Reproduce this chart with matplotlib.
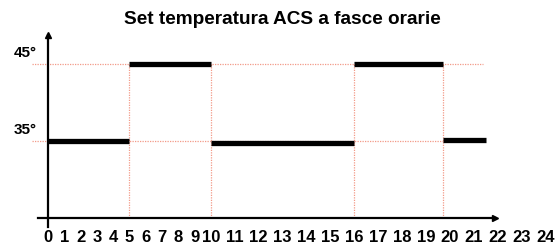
import matplotlib
matplotlib.use("Agg")
import matplotlib.pyplot as plt
import numpy as np

# Data
hours = list(range(25))
seg_start = [0, 5, 10, 16, 19.7]
seg_end = [5, 10, 16, 19.7, 21.5]
seg_temp = [35, 45, 34.8, 45, 35.1]
levels = [35, 45]
level_labels = ["35°", "45°"]
title = "Set temperatura ACS a fasce orarie"

plt.rcParams['font.family'] = ['Liberation Sans', 'DejaVu Sans']
plt.rcParams['font.weight'] = 'bold'

K = 1.464

def fwd(x):
    x = np.asarray(x, dtype=float)
    return np.where(x <= 10, x, 10 + (x - 10) * K)

def inv(y):
    y = np.asarray(y, dtype=float)
    return np.where(y <= 10, y, 10 + (y - 10) / K)

fig = plt.figure(figsize=(5.55, 2.44), dpi=100)
ax = fig.add_axes([0, 0, 1, 1])
ax.set_xscale('function', functions=(fwd, inv))
ax.set_xlim(-2.94, 24.41)
ax.set_ylim(21.62, 53.31)

red = '#f39a88'
# reference dotted lines
ax.hlines(45, -0.98, 21.4, colors=red, linestyles=(0, (1, 1)), lw=0.9, zorder=1)
ax.hlines(35, -0.98, seg_start[-1], colors=red, linestyles=(0, (1, 1)), lw=0.9, zorder=1)
for xs in seg_start[1:]:
    ax.vlines(xs, 25, 45, colors=red, linestyles=(0, (1, 1)), lw=0.9, zorder=1)

# temperature bars
ax.hlines(seg_temp, seg_start, seg_end, colors='black', lw=3.8, zorder=3)

# axes with arrows
for s in ['top', 'right']:
    ax.spines[s].set_visible(False)
ax.spines['left'].set_position(('data', 0))
ax.spines['bottom'].set_position(('data', 25))
ax.spines['left'].set_bounds(23.8, 48.8)
ax.spines['bottom'].set_bounds(-0.61, 21.9)
ax.spines['left'].set_linewidth(1.6)
ax.spines['bottom'].set_linewidth(1.6)
ax.plot([0], [48.8], marker='^', color='black', markersize=5, clip_on=False, zorder=4)
ax.plot([21.9], [25], marker='>', color='black', markersize=5, clip_on=False, zorder=4)

ax.set_xticks(hours)
ax.set_xticklabels([str(h) for h in hours], fontsize=12, fontweight='bold')
ax.tick_params(axis='x', length=0, pad=9)
ax.set_yticks([])
ax.xaxis.set_minor_locator(matplotlib.ticker.NullLocator())

for lv, lb in zip(levels, level_labels):
    ax.text(-0.68, lv + 1.4, lb, ha='right', va='center', fontsize=11, fontweight='bold')

fig.text(0.508, 0.922, title, ha='center', va='center', fontsize=13.7, fontweight='bold')

fig.savefig('out.png', dpi=100)
